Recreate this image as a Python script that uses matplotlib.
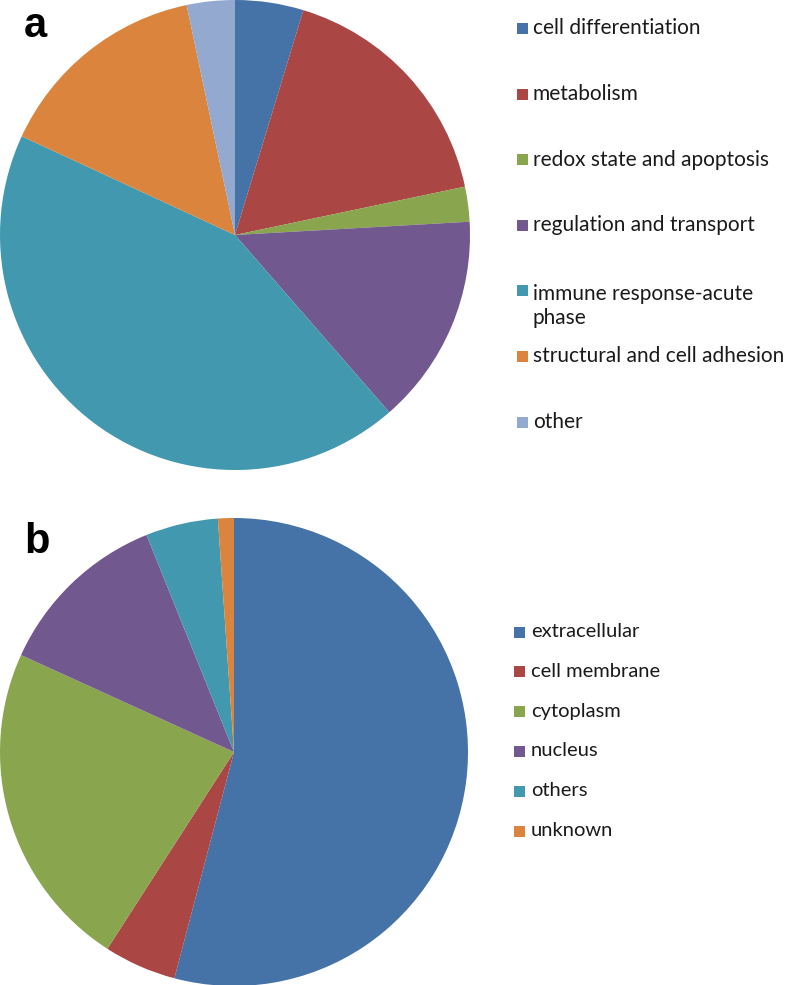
"""Two pie charts: functional categories (a) and subcellular location (b)."""

import matplotlib

matplotlib.use("Agg")
import matplotlib.pyplot as plt
from matplotlib.patches import Rectangle

W, H = 788, 985

# panel a: functional category shares (%)
func_labels = [
    "cell differentiation",
    "metabolism",
    "redox state and apoptosis",
    "regulation and transport",
    "immune response-acute\nphase",
    "structural and cell adhesion",
    "other",
]
func_values = [4.7, 17.0, 2.4, 14.5, 43.3, 14.8, 3.3]

# panel b: subcellular location shares (%)
loc_labels = ["extracellular", "cell membrane", "cytoplasm", "nucleus", "others", "unknown"]
loc_values = [54.1, 5.0, 22.7, 12.1, 5.0, 1.1]

colors = ["#4572A7", "#AA4643", "#89A54E", "#71588F", "#4198AF", "#DB843D", "#93A9CF"]

LEGEND_FONT = ["Lato", "DejaVu Sans"]


def box(x, y, w, h):
    """pixel box (top-left origin) -> figure fraction rect"""
    return [x / W, (H - y - h) / H, w / W, h / H]


def fy(y):
    return (H - y) / H


def draw_pie(fig, rect, values):
    ax = fig.add_axes(rect)
    ax.pie(values, colors=colors[: len(values)], startangle=90, counterclock=False,
           radius=1.0, wedgeprops={"linewidth": 0})
    ax.set_xlim(-1, 1)
    ax.set_ylim(-1, 1)
    ax.set_axis_off()
    return ax


def draw_legend(fig, labels, x_sq, x_txt, y0, step, sq=11, base_off=6, size=15):
    line_px = 27
    for i, lab in enumerate(labels):
        yc = y0 + i * step
        fig.patches.append(Rectangle((x_sq / W, fy(yc + sq / 2)), sq / W, sq / H,
                                     transform=fig.transFigure, facecolor=colors[i],
                                     edgecolor="none"))
        # baseline alignment uses the last line of multi-line text
        extra = (lab.count("\n")) * line_px
        fig.text(x_txt / W, fy(yc + base_off + extra), lab, fontsize=size,
                 family=LEGEND_FONT, va="baseline", ha="left", color="#1a1a1a",
                 linespacing=1.25)


fig = plt.figure(figsize=(W / 100, H / 100), dpi=100)

draw_pie(fig, box(0, 0, 470, 470), func_values)
draw_pie(fig, box(0, 518, 468, 468), loc_values)

draw_legend(fig, func_labels, 517, 533, 28.5, 65.6)
draw_legend(fig, loc_labels, 514, 531, 632, 39.8, base_off=5, size=14.5)

fig.text(24 / W, fy(37), "a", fontsize=30, fontweight="bold", family="Liberation Sans")
fig.text(24 / W, fy(553), "b", fontsize=30, fontweight="bold", family="Liberation Sans")

fig.savefig("out.png", dpi=100)
